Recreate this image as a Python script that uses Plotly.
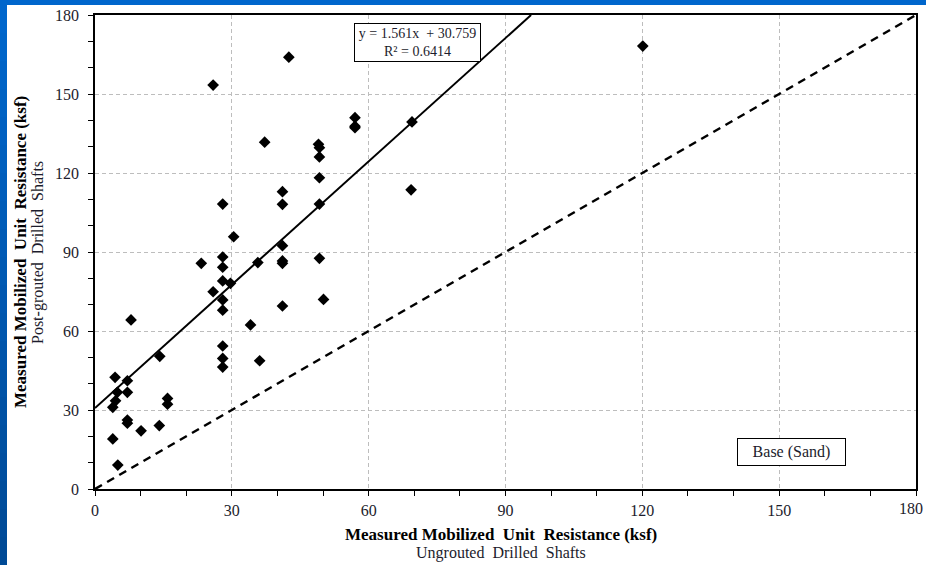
import plotly.graph_objects as go

# ---- data ----
ungrouted = [120.1, 42.5, 25.9, 57.0, 57.0, 57.0, 69.5, 37.2, 49.0, 49.2,
             49.2, 49.2, 69.3, 41.1, 28.0, 41.1, 49.2, 30.4, 41.1, 28.0,
             49.2, 41.1, 41.1, 35.7, 23.3, 28.0, 28.0, 29.7, 25.9, 28.0,
             50.1, 41.1, 28.0, 7.9, 34.1, 28.0, 14.2, 28.0, 36.1, 28.0,
             4.4, 7.1, 4.9, 7.1, 15.9, 4.5, 15.9, 3.9, 7.1, 7.1,
             14.1, 10.1, 3.9, 5.0]
post_grouted = [168.2, 164.0, 153.4, 141.0, 137.8, 137.2, 139.4, 131.7, 130.9, 129.6,
                126.1, 118.2, 113.6, 112.9, 108.2, 108.1, 108.2, 95.8, 92.4, 88.1,
                87.6, 86.6, 85.7, 86.0, 85.7, 84.2, 79.0, 78.1, 74.9, 71.8,
                72.0, 69.5, 67.9, 64.2, 62.3, 54.3, 50.4, 49.6, 48.7, 46.3,
                42.4, 41.1, 36.7, 36.7, 34.4, 33.5, 32.2, 31.0, 26.2, 25.0,
                24.1, 22.1, 19.0, 9.1]
slope = 1.561
intercept = 30.759
r_squared = 0.6414
axis_max = 180
tick_vals = [0, 30, 60, 90, 120, 150, 180]
tick_text = ["0", "30", "60", "90", "120", "150", "180"]

FONT = "Liberation Serif"
TXT = "#1c1c2c"

fig = go.Figure()

# 1:1 line
fig.add_trace(go.Scatter(x=[0, axis_max], y=[0, axis_max], mode="lines",
                         line=dict(color="black", width=2.5, dash="8px,6px"),
                         hoverinfo="skip", showlegend=False))
# regression line
x_end = (axis_max - intercept) / slope
fig.add_trace(go.Scatter(x=[0, x_end], y=[intercept, slope * x_end + intercept], mode="lines",
                         line=dict(color="black", width=2),
                         hoverinfo="skip", showlegend=False))
# points
fig.add_trace(go.Scatter(x=ungrouted, y=post_grouted, mode="markers",
                         marker=dict(symbol="diamond", size=9, color="black",
                                     line=dict(width=0)),
                         showlegend=False))

axis_common = dict(
    range=[0, axis_max], tickvals=tick_vals, ticktext=tick_text,
    showgrid=True, gridcolor="#bdbdbd", gridwidth=1, griddash="4px,3px",
    showline=True, linecolor="black", linewidth=1.5, mirror=True,
    ticks="outside", ticklen=5, tickcolor="black", tickwidth=1,
    minor=dict(dtick=10, ticks="outside", ticklen=5, tickcolor="black", tickwidth=1, showgrid=False),
    zeroline=False, automargin=False,
    tickfont=dict(family=FONT, size=16, color=TXT),
)
fig.update_xaxes(**axis_common, ticklabelstandoff=1)
fig.update_yaxes(**axis_common, ticklabelstandoff=6)

W, H = 926, 565
ml, mr, mt, mb = 95, 10, 15, 76
pw, ph = W - ml - mr, H - mt - mb

def px_x(p):
    return (p - ml) / pw

def px_y(p):
    return (H - mb - p) / ph

annotations = [
    dict(text="y = 1.561x  + 30.759<br>R² = 0.6414", x=70.7, y=169.6, xref="x", yref="y",
         showarrow=False, font=dict(family=FONT, size=14, color=TXT),
         bordercolor="black", borderwidth=1, bgcolor="white", borderpad=2, width=121,
         align="center"),
    dict(text="Base (Sand)", x=152.7, y=14.0, xref="x", yref="y",
         showarrow=False, font=dict(family=FONT, size=16, color=TXT),
         bordercolor="black", borderwidth=1, bgcolor="white", borderpad=4, width=99,
         align="center"),
    # last x tick label, kept inside the right edge
    dict(text=tick_text[-1], x=px_x(925), y=px_y(509), xref="paper", yref="paper",
         showarrow=False, font=dict(family=FONT, size=16, color=TXT),
         xanchor="right", yanchor="middle"),
    dict(text="<b>Measured Mobilized  Unit  Resistance (ksf)</b>", x=px_x(501), y=px_y(534),
         xref="paper", yref="paper", showarrow=False,
         font=dict(family=FONT, size=17, color="black"), xanchor="center", yanchor="middle"),
    dict(text="Ungrouted  Drilled  Shafts", x=px_x(501), y=px_y(553),
         xref="paper", yref="paper", showarrow=False,
         font=dict(family=FONT, size=16, color=TXT), xanchor="center", yanchor="middle"),
    dict(text="<b>Measured Mobilized  Unit  Resistance (ksf)</b>", x=px_x(20), y=px_y(252),
         xref="paper", yref="paper", showarrow=False, textangle=-90,
         font=dict(family=FONT, size=17, color="black"), xanchor="center", yanchor="middle"),
    dict(text="Post-grouted  Drilled  Shafts", x=px_x(38), y=px_y(252),
         xref="paper", yref="paper", showarrow=False, textangle=-90,
         font=dict(family=FONT, size=16, color=TXT), xanchor="center", yanchor="middle"),
]

# blue slide frame (top and left strips)
shapes = [dict(type="rect", xref="paper", yref="paper", x0=px_x(0), x1=px_x(W + 5),
               y0=px_y(5), y1=px_y(-5), fillcolor="#0066CC", line=dict(width=0), layer="above")]
n_seg = 20
c_top = (0, 102, 204)
c_bot = (0, 74, 150)
for i in range(n_seg):
    t = i / (n_seg - 1)
    col = "rgb(%d,%d,%d)" % tuple(round(a + (b - a) * t) for a, b in zip(c_top, c_bot))
    y_top = 5 + (H - 5) * i / n_seg
    y_bot = 5 + (H - 5) * (i + 1) / n_seg + 1
    shapes.append(dict(type="rect", xref="paper", yref="paper", x0=px_x(-2), x1=px_x(7),
                       y0=px_y(y_bot), y1=px_y(y_top), fillcolor=col, line=dict(width=0),
                       layer="above"))

fig.update_layout(
    width=W, height=H,
    margin=dict(l=ml, r=mr, t=mt, b=mb, pad=0),
    paper_bgcolor="white", plot_bgcolor="white",
    showlegend=False,
    annotations=annotations,
    shapes=shapes,
    font=dict(family=FONT),
)

fig.write_html("out.html")
